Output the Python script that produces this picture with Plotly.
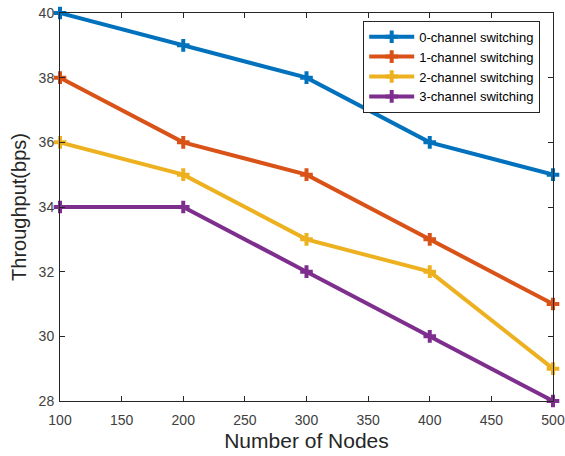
import plotly.graph_objects as go

nodes = [100, 200, 300, 400, 500]
series_names = ["0-channel switching", "1-channel switching",
                "2-channel switching", "3-channel switching"]
throughput_0 = [40, 39, 38, 36, 35]
throughput_1 = [38, 36, 35, 33, 31]
throughput_2 = [36, 35, 33, 32, 29]
throughput_3 = [34, 34, 32, 30, 28]
x_ticks = [100, 150, 200, 250, 300, 350, 400, 450, 500]
y_ticks = [28, 30, 32, 34, 36, 38, 40]

colors = ["#0072BD", "#D95319", "#EDB120", "#7E2F8E"]
series = [throughput_0, throughput_1, throughput_2, throughput_3]

fig = go.Figure()
for name, ys, c in zip(series_names, series, colors):
    fig.add_trace(go.Scatter(
        x=nodes, y=ys, name=name, mode="lines+markers",
        line=dict(color=c, width=4),
        marker=dict(symbol="cross-thin", size=9, line=dict(color=c, width=4)),
        cliponaxis=False,
    ))

font_family = "Liberation Sans, Arial"
axis_common = dict(
    showline=True, linecolor="#262626", linewidth=1, mirror="ticks",
    ticks="inside", ticklen=5, tickcolor="#262626", showgrid=False,
    zeroline=False, automargin=False,
    tickfont=dict(family=font_family, size=14, color="#404040"),
)

fig.update_layout(
    width=565, height=456,
    margin=dict(l=60, r=12, t=13, b=55),
    plot_bgcolor="white", paper_bgcolor="white",
    xaxis=dict(range=[100, 500], tickvals=x_ticks, ticklabelstandoff=6,
               title=dict(text="Number of Nodes", standoff=6,
                          font=dict(family=font_family, size=21, color="#262626")),
               **axis_common),
    yaxis=dict(range=[28, 40], tickvals=y_ticks, ticklabelstandoff=2,
               title=dict(text="Throughput(bps)", standoff=6,
                          font=dict(family=font_family, size=20, color="#262626")),
               **axis_common),
    legend=dict(x=0.615, y=0.98, xanchor="left", yanchor="top",
                bordercolor="#262626", borderwidth=1, bgcolor="white",
                font=dict(family=font_family, size=13, color="#000000"),
                tracegroupgap=0, itemwidth=45),
    showlegend=True,
)

fig.write_html("out.html")
